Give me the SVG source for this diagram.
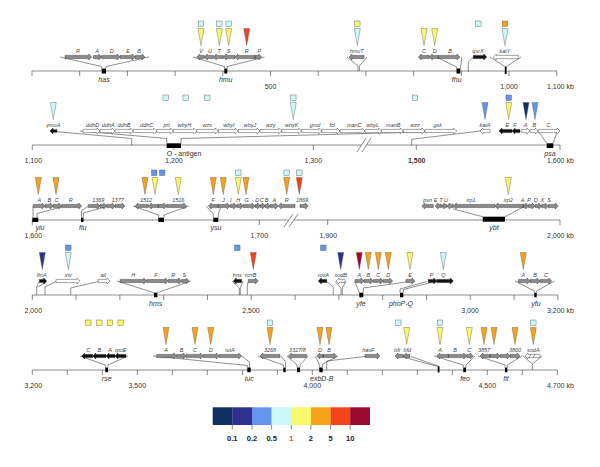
<svg xmlns="http://www.w3.org/2000/svg" xmlns:xlink="http://www.w3.org/1999/xlink" width="600" height="467" viewBox="0 0 600 467">
<style>
.ax{stroke:#707070;stroke-width:0.8;fill:none}
.tk{stroke:#555;stroke-width:0.7}
.g{fill:#8a8a8a;stroke:#333;stroke-width:0.45}
.w{fill:#fff;stroke:#333;stroke-width:0.45}
.k{fill:#111;stroke:#111;stroke-width:0.45}
.fan{fill:none;stroke:#333;stroke-width:0.55}
.m{fill:#000}
.gl{font-family:"Liberation Sans",Arial,sans-serif;font-style:italic;font-size:5.5px;fill:#444;text-anchor:middle}
.loc{font-family:"Liberation Sans",Arial,sans-serif;font-style:italic;font-size:7px;fill:#333;text-anchor:middle}
.sc{font-family:"Liberation Sans",Arial,sans-serif;font-size:7px;fill:#333;text-anchor:middle}
.kb{text-anchor:start}
.lg{font-family:"Liberation Sans",Arial,sans-serif;font-size:7.5px;font-weight:bold;fill:#222;text-anchor:middle}
.c1{fill:#12305f}.c2{fill:#2e3190}.c3{fill:#6495ed}.c4{fill:#cbf7f9}
.c5{fill:#f9f76a}.c6{fill:#f7a21b}.c7{fill:#f5431a}.c8{fill:#9b0a2e}
</style>
<defs>
<path id="t" d="M-3 -28.5h6L0 -11.5z" stroke="#555" stroke-width="0.4"/>
<rect id="s" x="-2.75" y="-36" width="5.5" height="5.5" stroke="#555" stroke-width="0.4"/>
</defs>

<!-- axes -->
<g id="axis1" transform="translate(0,57)">
<line class="ax" x1="32" y1="14" x2="557" y2="14"/>
<path class="tk" d="M32 14v5M79.7 14v5M127.4 14v5M175.1 14v5M222.8 14v5M270.5 14v5M318.2 14v5M365.9 14v5M413.6 14v5M461.3 14v5M509 14v5M556.7 14v5"/>
<text class="sc" x="270.5" y="31.5">500</text>
<text class="sc" x="509" y="31.5">1,000</text>
<text class="sc kb" x="547" y="31.5">1,100 kb</text>
</g>
<g id="axis2" transform="translate(0,131)">
<path class="ax" d="M32.3 14H361.5M366.5 14H560"/>
<path class="tk" d="M357 21L366 7M362 21L371 7"/>
<path class="tk" d="M32.3 14v5M174 14v5M313.3 14v5M416.3 14v5M560 14v5"/>
<text class="sc" x="33.3" y="31.5">1,100</text>
<text class="sc" x="174" y="31.5">1,200</text>
<text class="sc" x="313.3" y="31.5">1,300</text>
<text class="sc" x="416.7" y="31.5" font-weight="bold">1,500</text>
<text class="sc kb" x="547" y="31.5">1,600 kb</text>
</g>
<g id="axis3" transform="translate(0,206)">
<path class="ax" d="M32.3 14H288.8M293.8 14H560"/>
<path class="tk" d="M284 21L293 8M289 21L298 8"/>
<path class="tk" d="M32.3 14v5M259.3 14v5M327.7 14v5M560 14v5"/>
<text class="sc" x="33.3" y="31.5">1,600</text>
<text class="sc" x="259.3" y="31.5">1,700</text>
<text class="sc" x="328.3" y="31.5">1,900</text>
<text class="sc kb" x="547" y="31.5">2,000 kb</text>
</g>
<g id="axis4" transform="translate(0,281)">
<line class="ax" x1="32.3" y1="14" x2="557.9" y2="14"/>
<path class="tk" d="M32.3 14v5M76.1 14v5M119.9 14v5M163.7 14v5M207.5 14v5M251.3 14v5M295.1 14v5M338.9 14v5M382.7 14v5M426.5 14v5M470.3 14v5M514.1 14v5M557.9 14v5"/>
<text class="sc" x="33.3" y="31.5">2,000</text>
<text class="sc" x="251" y="31.5">2,500</text>
<text class="sc" x="470" y="31.5">3,000</text>
<text class="sc kb" x="547" y="31.5">3,200 kb</text>
</g>
<g id="axis5" transform="translate(0,356)">
<line class="ax" x1="32.3" y1="14" x2="557.3" y2="14"/>
<path class="tk" d="M32.3 14v5M67.3 14v5M102.3 14v5M137.3 14v5M172.3 14v5M207.3 14v5M242.3 14v5M277.3 14v5M312.3 14v5M347.3 14v5M382.3 14v5M417.3 14v5M452.3 14v5M487.3 14v5M522.3 14v5M557.3 14v5"/>
<text class="sc" x="33.3" y="31.5">3,200</text>
<text class="sc" x="137.3" y="31.5">3,500</text>
<text class="sc" x="312.3" y="31.5">4,000</text>
<text class="sc" x="487.3" y="31.5">4,500</text>
<text class="sc kb" x="547" y="31.5">4,700 kb</text>
</g>

<!-- connectors -->
<g id="connectors" class="fan">
<g transform="translate(0,57)">
<polyline points="60,0 101.7,9.5 101.7,11.5"/><polyline points="149,0 106,9.5 106,11.5"/>
<polyline points="193,0 224.3,9.5 224.3,11.5"/><polyline points="264.5,0 227.3,9.5 227.3,11.5"/>
<polyline points="347,0 358,9 358,14"/><polyline points="367,0 359.4,9 359.4,14"/>
<polyline points="438.3,1 456.7,10 456.7,11.5"/><polyline points="462,0 460.5,10 460.5,11.5"/>
<polyline points="473.3,0 468.3,5 468.3,15"/>
<polyline points="490,0 504.8,9.5"/><polyline points="521,0 506.6,9.5"/>
</g>
<g transform="translate(0,131)">
<polyline points="55,0.5 131.7,7.5 131.7,14.5"/>
<polyline points="80,0 166.7,7.5 166.7,12.3"/><polyline points="456.7,0 181,7.5 181,12.3"/>
<polyline points="480,0 411.7,8.3 411.7,15"/>
<polyline points="539,1 546.7,12.3"/><polyline points="557,1 553.3,12.3"/>
</g>
<g transform="translate(0,206)">
<polyline points="33,0 33,11.7"/><polyline points="61.7,1 37,7.5 37,11.7"/>
<polyline points="88.3,0 81.5,5 81.5,11.7"/><polyline points="105,1 83.3,7 83.3,11.7"/>
<polyline points="133,0 158.3,9 158.3,11.7"/><polyline points="189,0 164,9 164,11.7"/>
<polyline points="206,0 213.3,8 213.3,11.7"/><polyline points="221,0.5 218.3,8 218.3,11.7"/>
<polyline points="453.3,3 482.7,10.7"/><polyline points="505,10.7 523.3,1"/>
</g>
<g transform="translate(0,281)">
<polyline points="38.5,1 36.7,6 36.7,14"/><polyline points="46,1.5 37.5,6"/>
<polyline points="56,0.5 45,6 45,14"/>
<polyline points="98.3,0.5 70.7,7 70.7,14"/>
<polyline points="117,0 154,11.7"/><polyline points="191,0 157.3,11.7"/>
<polyline points="232,0 239.3,7 239.3,14"/><polyline points="243,0.5 240.3,7 240.3,14"/>
<polyline points="248.3,0.5 247.3,4 247.3,14"/>
<polyline points="326.7,0.5 333.3,6 333.3,14"/>
<polyline points="335,0.5 341,7 341,14"/><polyline points="346,0.5 342.3,7 342.3,14"/>
<polyline points="355,1 359.3,11.7"/><polyline points="406,1 363.3,7 363.3,11.7"/>
<polyline points="427,0.5 400,8 400,11.7"/><polyline points="431,1.5 403.3,8.5 403.3,11.7"/>
<polyline points="515,0 534.3,10 534.3,11.7"/><polyline points="554.5,0 536.7,10 536.7,11.7"/>
</g>
<g transform="translate(0,356)">
<polyline points="80,0 105.3,9 105.3,11.5"/><polyline points="128,0 108,9 108,11.5"/>
<polyline points="153.3,0 247.3,9.5 247.3,11.5"/><polyline points="241.7,0 249.5,6 249.5,11.5"/>
<polyline points="258,0 283.3,9 283.3,11.5"/><polyline points="281,0 285.7,6 285.7,11.5"/>
<polyline points="287,0 297,9 297,11.5"/><polyline points="308,0 300,9 300,11.5"/>
<polyline points="315,0 319.3,8 319.3,11.5"/><polyline points="338,0 322.7,8 322.7,11.5"/>
<polyline points="365,0.5 326.7,5 326.7,14"/>
<polyline points="403,1 437.7,10.5"/><polyline points="411,0.5 439.5,10.5"/>
<polyline points="434,0 463.3,9 463.3,11.5"/><polyline points="475,0 466,9 466,11.5"/>
<polyline points="478,0 505,9 505,11.5"/><polyline points="522,0 507.3,9 507.3,11.5"/>
<polyline points="523,0 532.3,8 532.3,14"/><polyline points="542,0 532.3,8"/>
</g>
</g>

<!-- ROW 1 -->
<g id="has" transform="translate(0,57)">
<path class="g" d="M65 -1.6H88.7V-3L91.7 0L88.7 3V1.6H65ZM93.3 -1.6H98.7V-3L101.7 0L98.7 3V1.6H93.3ZM101.7 -1.6H117V-3L120 0L117 3V1.6H101.7ZM120 -1.6H132V-3L135 0L132 3V1.6H120ZM135 -1.6H142V-3L145 0L142 3V1.6H135Z"/>
<text class="gl" x="78" y="-4.5">R</text><text class="gl" x="97" y="-4.5">A</text><text class="gl" x="111.7" y="-4.5">D</text><text class="gl" x="128" y="-4.5">E</text><text class="gl" x="139" y="-4.5">B</text>
<rect class="m" x="101.7" y="11.5" width="4.3" height="5"/>
<text class="loc" x="104" y="25">has</text>
</g>
<g id="hmu" transform="translate(0,57)">
<path class="g" d="M204.3 -1.6H199.7V-3L196.7 0L199.7 3V1.6H204.3ZM213.3 -1.6H207.3V-3L204.3 0L207.3 3V1.6H213.3ZM223.3 -1.6H216.3V-3L213.3 0L216.3 3V1.6H223.3ZM235 -1.6H226.3V-3L223.3 0L226.3 3V1.6H235ZM255 -1.6H238V-3L235 0L238 3V1.6H255ZM255 -1.6H258.7V-3L261.7 0L258.7 3V1.6H255Z"/>
<text class="gl" x="201" y="-4.5">V</text><text class="gl" x="210" y="-4.5">U</text><text class="gl" x="219.3" y="-4.5">T</text><text class="gl" x="228.7" y="-4.5">S</text><text class="gl" x="246.7" y="-4.5">R</text><text class="gl" x="259.3" y="-4.5">P</text>
<use href="#t" x="201" class="c5"/><use href="#t" x="219.3" class="c5"/><use href="#t" x="228.7" class="c5"/><use href="#t" x="246.7" class="c7"/>
<use href="#s" x="201" class="c4"/><use href="#s" x="219.3" class="c4"/><use href="#s" x="228.7" class="c4"/>
<rect class="m" x="224.3" y="11.5" width="3" height="5"/>
<text class="loc" x="225.7" y="25">hmu</text>
</g>
<g id="hmuT" transform="translate(0,57)">
<path class="g" d="M364 -1.6H352V-3L349 0L352 3V1.6H364Z"/>
<text class="gl" x="356.7" y="-4.5">hmuT</text>
<use href="#t" x="357.3" class="c4"/><use href="#s" x="357.3" class="c5"/>
</g>
<g id="fhu" transform="translate(0,57)">
<path class="g" d="M429.3 -1.6H421.3V-3L418.3 0L421.3 3V1.6H429.3ZM438.3 -1.6H432.3V-3L429.3 0L432.3 3V1.6H438.3ZM438.3 -1.6H457V-3L460 0L457 3V1.6H438.3Z"/>
<text class="gl" x="424" y="-4.5">C</text><text class="gl" x="434.7" y="-4.5">D</text><text class="gl" x="450" y="-4.5">B</text>
<use href="#t" x="424" class="c5"/><use href="#t" x="434.7" class="c5"/>
<rect class="m" x="456.5" y="11.5" width="3.8" height="5"/>
<text class="loc" x="456.7" y="25">fhu</text>
</g>
<g id="qsrX" transform="translate(0,57)">
<path class="k" d="M473.3 -1.6H483.7V-3L486.7 0L483.7 3V1.6H473.3Z"/>
<text class="gl" x="478" y="-4.5">qsrX</text>
<use href="#s" x="478.3" class="c4"/>
</g>
<g id="katY" transform="translate(0,57)">
<path class="w" d="M518.3 -1.6H496.3V-3L493.3 0L496.3 3V1.6H518.3Z"/>
<text class="gl" x="505" y="-4.5">katY</text>
<use href="#t" x="505" class="c4"/><use href="#s" x="505" class="c6"/>
<rect class="m" x="504.8" y="9.5" width="1.8" height="7.5"/>
</g>

<!-- ROW 2 -->
<g id="ymoA" transform="translate(0,131)">
<path class="k" d="M57 -1.3H53V-3L50 0L53 3V1.3H57Z"/>
<text class="gl" x="53.3" y="-4.5">ymoA</text>
<use href="#t" x="53.3" class="c4"/>
</g>
<g id="O-antigen" transform="translate(0,131)">
<path class="w" d="M83 -1.6H97V-3L100 0L97 3V1.6H83ZM100 -1.6H112V-3L115 0L112 3V1.6H100ZM115 -1.6H130.3V-3L133.3 0L130.3 3V1.6H115ZM133.3 -1.6H153.7V-3L156.7 0L153.7 3V1.6H133.3ZM156.7 -1.6H170.3V-3L173.3 0L170.3 3V1.6H156.7ZM173.3 -1.6H193.7V-3L196.7 0L193.7 3V1.6H173.3ZM196.7 -1.6H215.3V-3L218.3 0L215.3 3V1.6H196.7ZM218.3 -1.6H235.3V-3L238.3 0L235.3 3V1.6H218.3ZM238.3 -1.6H257V-3L260 0L257 3V1.6H238.3ZM260 -1.6H278.7V-3L281.7 0L278.7 3V1.6H260ZM281.7 -1.6H298.7V-3L301.7 0L298.7 3V1.6H281.7ZM301.7 -1.6H318.7V-3L321.7 0L318.7 3V1.6H301.7ZM321.7 -1.6H337V-3L340 0L337 3V1.6H321.7ZM340 -1.6H362V-3L365 0L362 3V1.6H340ZM365 -1.6H378.7V-3L381.7 0L378.7 3V1.6H365ZM381.7 -1.6H400.3V-3L403.3 0L400.3 3V1.6H381.7ZM403.3 -1.6H422V-3L425 0L422 3V1.6H403.3ZM425 -1.6H453.7V-3L456.7 0L453.7 3V1.6H425Z"/>
<text class="gl" x="92.7" y="-4.5">ddhD</text><text class="gl" x="108.3" y="-4.5">ddhA</text><text class="gl" x="124" y="-4.5">ddhB</text><text class="gl" x="146.7" y="-4.5">ddhC</text><text class="gl" x="166.7" y="-4.5">prt</text><text class="gl" x="184.3" y="-4.5">wbyH</text><text class="gl" x="207.3" y="-4.5">wzx</text><text class="gl" x="229" y="-4.5">wbyI</text><text class="gl" x="250" y="-4.5">wbyJ</text><text class="gl" x="270.7" y="-4.5">wzy</text><text class="gl" x="291.7" y="-4.5">wbyK</text><text class="gl" x="315" y="-4.5">gmd</text><text class="gl" x="332.3" y="-4.5">fcl</text><text class="gl" x="354.3" y="-4.5">manC</text><text class="gl" x="372.7" y="-4.5">wbyL</text><text class="gl" x="393.3" y="-4.5">manB</text><text class="gl" x="415" y="-4.5">wzz</text><text class="gl" x="437.7" y="-4.5">gsk</text>
<use href="#t" x="293.3" class="c4"/>
<use href="#s" x="165.7" class="c4"/><use href="#s" x="185.7" class="c4"/><use href="#s" x="207.3" class="c4"/><use href="#s" x="293.3" class="c4"/><use href="#s" x="415" class="c4"/>
<rect class="m" x="166.7" y="12.3" width="14.3" height="4.7"/>
<text class="sc kb" x="166.7" y="25">O - antigen</text>
</g>
<g id="katA" transform="translate(0,131)">
<path class="w" d="M490 -1.6H483V-3L480 0L483 3V1.6H490Z"/>
<text class="gl" x="485" y="-4.5">katA</text>
<use href="#t" x="485" class="c3"/>
</g>
<g id="psa" transform="translate(0,131)">
<path class="k" d="M512 -1.6H502V-3L499 0L502 3V1.6H512ZM520 -1.6H515V-3L512 0L515 3V1.6H520Z"/>
<path class="w" d="M521.7 -1.6H527V-3L530 0L527 3V1.6H521.7ZM530 -1.6H535.3V-3L538.3 0L535.3 3V1.6H530ZM538.3 -1.6H557V-3L560 0L557 3V1.6H538.3Z"/>
<text class="gl" x="507.3" y="-4.5">E</text><text class="gl" x="515" y="-4.5">F</text><text class="gl" x="525.7" y="-4.5">A</text><text class="gl" x="534.3" y="-4.5">B</text><text class="gl" x="548.3" y="-4.5">C</text>
<use href="#t" x="508.7" class="c5"/><use href="#t" x="526" class="c1"/><use href="#t" x="535" class="c3"/>
<use href="#s" x="508.7" class="c3"/>
<rect class="m" x="546.7" y="12.3" width="6.6" height="4.7"/>
<text class="loc" x="550" y="25">psa</text>
</g>

<!-- ROW 3 -->
<g id="yiu" transform="translate(0,206)">
<path class="g" d="M33.3 -1.6H42V-3L45 0L42 3V1.6H33.3ZM45 -1.6H50.3V-3L53.3 0L50.3 3V1.6H45ZM53.3 -1.6H58.7V-3L61.7 0L58.7 3V1.6H53.3ZM61.7 -1.6H78.7V-3L81.7 0L78.7 3V1.6H61.7Z"/>
<text class="gl" x="39.3" y="-4.5">A</text><text class="gl" x="49.3" y="-4.5">B</text><text class="gl" x="56.7" y="-4.5">C</text><text class="gl" x="70.7" y="-4.5">R</text>
<use href="#t" x="38.3" class="c6"/><use href="#t" x="56" class="c6"/>
<rect class="m" x="32.3" y="11.7" width="6" height="4.3"/>
<text class="loc" x="40" y="24">yiu</text>
</g>
<g id="fiu" transform="translate(0,206)">
<path class="g" d="M88.3 -1.6H97V-3L100 0L97 3V1.6H88.3ZM100 -1.6H103.7V-3L106.7 0L103.7 3V1.6H100ZM106.7 -1.6H112V-3L115 0L112 3V1.6H106.7ZM115 -1.6H122V-3L125 0L122 3V1.6H115Z"/>
<text class="gl" x="98.3" y="-4.5">1369</text><text class="gl" x="117.7" y="-4.5">1377</text>
<rect class="m" x="81" y="11.7" width="2.5" height="4.3"/>
<text class="loc" x="82.7" y="24">fiu</text>
</g>
<g id="y1512" transform="translate(0,206)">
<path class="g" d="M148.3 -1.6H138V-3L135 0L138 3V1.6H148.3ZM158.3 -1.6H151.3V-3L148.3 0L151.3 3V1.6H158.3ZM158.3 -1.6H163.7V-3L166.7 0L163.7 3V1.6H158.3ZM166.7 -1.6H183.7V-3L186.7 0L183.7 3V1.6H166.7Z"/>
<text class="gl" x="146" y="-4.5">1512</text><text class="gl" x="178.3" y="-4.5">1516</text>
<use href="#t" x="145" class="c6"/><use href="#t" x="155" class="c5"/><use href="#t" x="178.3" class="c5"/>
<use href="#s" x="154.2" class="c3"/><use href="#s" x="162.2" class="c3"/>
<rect class="m" x="158.3" y="11.7" width="5.7" height="4.3"/>
</g>
<g id="ysu" transform="translate(0,206)">
<path class="g" d="M218.3 -1.6H211.3V-3L208.3 0L211.3 3V1.6H218.3ZM218.3 -1.6H227V-3L230 0L227 3V1.6H218.3ZM230 -1.6H233.7V-3L236.7 0L233.7 3V1.6H230ZM236.7 -1.6H240.3V-3L243.3 0L240.3 3V1.6H236.7ZM243.3 -1.6H252V-3L255 0L252 3V1.6H243.3ZM255 -1.6H257.5V-3L260 0L257.5 3V1.6H255ZM260 -1.6H262.5V-3L265 0L262.5 3V1.6H260ZM265 -1.6H267.5V-3L270 0L267.5 3V1.6H265ZM270 -1.6H275.3V-3L278.3 0L275.3 3V1.6H270ZM295 -1.6H281.3V-3L278.3 0L281.3 3V1.6H295ZM300 -1.6H305.3V-3L308.3 0L305.3 3V1.6H300Z"/>
<text class="gl" x="213.3" y="-4.5">F</text><text class="gl" x="223.3" y="-4.5">J</text><text class="gl" x="230.7" y="-4.5">I</text><text class="gl" x="238.3" y="-4.5">H</text><text class="gl" x="246.7" y="-4.5">G</text><text class="gl" x="257.3" y="-4.5">D</text><text class="gl" x="261.7" y="-4.5">C</text><text class="gl" x="266.7" y="-4.5">B</text><text class="gl" x="274.3" y="-4.5">A</text><text class="gl" x="286.7" y="-4.5">R</text><text class="gl" x="302" y="-4.5">1869</text>
<use href="#t" x="213.3" class="c6"/><use href="#t" x="223.3" class="c6"/><use href="#t" x="238.3" class="c5"/><use href="#t" x="246" class="c6"/><use href="#t" x="286.7" class="c6"/><use href="#t" x="299.3" class="c7"/>
<use href="#s" x="238.3" class="c4"/><use href="#s" x="286.7" class="c4"/><use href="#s" x="299.3" class="c4"/>
<rect class="m" x="213.3" y="11.7" width="5" height="4.3"/>
<text class="loc" x="216" y="24">ysu</text>
</g>
<g id="ybt" transform="translate(0,206)">
<path class="g" d="M433.3 -1.6H424.7V-3L421.7 0L424.7 3V1.6H433.3ZM441.7 -1.6H438V-3L435 0L438 3V1.6H441.7ZM446.7 -1.6H444.2V-3L441.7 0L444.2 3V1.6H446.7ZM453.3 -1.6H449.7V-3L446.7 0L449.7 3V1.6H453.3ZM495 -1.6H456.3V-3L453.3 0L456.3 3V1.6H495ZM523.3 -1.6H498V-3L495 0L498 3V1.6H523.3ZM523.3 -1.6H525.8V-3L528.3 0L525.8 3V1.6H523.3ZM528.3 -1.6H532V-3L535 0L532 3V1.6H528.3ZM535 -1.6H538.7V-3L541.7 0L538.7 3V1.6H535ZM541.7 -1.6H545.3V-3L548.3 0L545.3 3V1.6H541.7ZM548.3 -1.6H555.3V-3L558.3 0L555.3 3V1.6H548.3Z"/>
<text class="gl" x="427.7" y="-4.5">psn</text><text class="gl" x="435.7" y="-4.5">E</text><text class="gl" x="441" y="-4.5">T</text><text class="gl" x="446" y="-4.5">U</text><text class="gl" x="471" y="-4.5">irp1</text><text class="gl" x="508.3" y="-4.5">irp2</text><text class="gl" x="522.7" y="-4.5">A</text><text class="gl" x="529" y="-4.5">P</text><text class="gl" x="535.7" y="-4.5">Q</text><text class="gl" x="542.3" y="-4.5">X</text><text class="gl" x="549" y="-4.5">S</text>
<use href="#t" x="508.3" class="c5"/>
<rect class="m" x="482.7" y="10.7" width="22.3" height="5"/>
<text class="loc" x="494" y="24">ybt</text>
</g>

<!-- ROW 4 -->
<g id="ftnA" transform="translate(0,281)">
<path class="k" d="M39.3 -1.6H43.7V-3L46.7 0L43.7 3V1.6H39.3Z"/>
<text class="gl" x="41.7" y="-4.5">ftnA</text>
<use href="#t" x="42.3" class="c2"/>
</g>
<g id="inv" transform="translate(0,281)">
<path class="w" d="M56 -1.6H77V-3L80 0L77 3V1.6H56Z"/>
<text class="gl" x="68.3" y="-4.5">inv</text>
<use href="#t" x="68.3" class="c4"/><use href="#s" x="68.3" class="c3"/>
</g>
<g id="ail" transform="translate(0,281)">
<path class="w" d="M98.3 -1.6H107V-3L110 0L107 3V1.6H98.3Z"/>
<text class="gl" x="103.3" y="-4.5">ail</text>
</g>
<g id="hms" transform="translate(0,281)">
<path class="g" d="M120 -1.6H143.7V-3L146.7 0L143.7 3V1.6H120ZM146.7 -1.6H165.3V-3L168.3 0L165.3 3V1.6H146.7ZM168.3 -1.6H178.7V-3L181.7 0L178.7 3V1.6H168.3ZM181.7 -1.6H186.3V-3L189.3 0L186.3 3V1.6H181.7Z"/>
<text class="gl" x="133.3" y="-4.5">H</text><text class="gl" x="156" y="-4.5">F</text><text class="gl" x="173.3" y="-4.5">R</text><text class="gl" x="184.3" y="-4.5">S</text>
<rect class="m" x="154" y="11.7" width="3.3" height="4.6"/>
<text class="loc" x="155.7" y="25" font-size="7.5">hms</text>
</g>
<g id="hns" transform="translate(0,281)">
<path class="k" d="M241.7 -1.6H236.3V-3L233.3 0L236.3 3V1.6H241.7Z"/>
<text class="gl" x="237.3" y="-4.5">hns</text>
<use href="#s" x="237.3" class="c3"/>
</g>
<g id="tonB" transform="translate(0,281)">
<path class="g" d="M248.3 -1.6H255.3V-3L258.3 0L255.3 3V1.6H248.3Z"/>
<text class="gl" x="250.7" y="-4.5">tonB</text>
<use href="#t" x="253.3" class="c7"/>
</g>
<g id="rovA" transform="translate(0,281)">
<path class="k" d="M326.7 -1.6H321.3V-3L318.3 0L321.3 3V1.6H326.7Z"/>
<text class="gl" x="323.3" y="-4.5">rovA</text>
<use href="#s" x="323.3" class="c3"/>
</g>
<g id="sodB" transform="translate(0,281)">
<path class="w" d="M345 -1.6H339V-3L336 0L339 3V1.6H345Z"/>
<text class="gl" x="340.7" y="-4.5">sodB</text>
<use href="#t" x="340.7" class="c2"/>
</g>
<g id="yfe" transform="translate(0,281)">
<path class="g" d="M355 -1.6H361V-3L364 0L361 3V1.6H355ZM364 -1.6H370.3V-3L373.3 0L370.3 3V1.6H364ZM373.3 -1.6H380.3V-3L383.3 0L380.3 3V1.6H373.3ZM383.3 -1.6H389.7V-3L392.7 0L389.7 3V1.6H383.3ZM406 -1.6H412V-3L415 0L412 3V1.6H406Z"/>
<text class="gl" x="359.3" y="-4.5">A</text><text class="gl" x="368.3" y="-4.5">B</text><text class="gl" x="378.3" y="-4.5">C</text><text class="gl" x="388.3" y="-4.5">D</text><text class="gl" x="410" y="-4.5">E</text>
<use href="#t" x="359.3" class="c8"/><use href="#t" x="368.3" class="c6"/><use href="#t" x="378.3" class="c6"/><use href="#t" x="388.3" class="c6"/><use href="#t" x="410" class="c5"/>
<rect class="m" x="359.3" y="11.7" width="4" height="4.6"/>
<text class="loc" x="361" y="25">yfe</text>
</g>
<g id="phoP-Q" transform="translate(0,281)">
<path class="k" d="M428.3 -1.6H433.7V-3L436.7 0L433.7 3V1.6H428.3ZM436.7 -1.6H450.3V-3L453.3 0L450.3 3V1.6H436.7Z"/>
<text class="gl" x="431.7" y="-4.5">P</text><text class="gl" x="443.3" y="-4.5">Q</text>
<use href="#t" x="443.3" class="c4"/>
<rect class="m" x="400" y="11.7" width="3.3" height="4.6"/>
<text class="loc" x="401" y="25">phoP-Q</text>
</g>
<g id="yfu" transform="translate(0,281)">
<path class="g" d="M518.3 -1.6H527V-3L530 0L527 3V1.6H518.3ZM530 -1.6H537V-3L540 0L537 3V1.6H530ZM540 -1.6H548.7V-3L551.7 0L548.7 3V1.6H540Z"/>
<text class="gl" x="523.3" y="-4.5">A</text><text class="gl" x="535" y="-4.5">B</text><text class="gl" x="546" y="-4.5">C</text>
<use href="#t" x="523.3" class="c6"/>
<rect class="m" x="534.3" y="11.7" width="2.4" height="4.6"/>
<text class="loc" x="536" y="25">yfu</text>
</g>

<!-- ROW 5 -->
<g id="rse" transform="translate(0,356)">
<path class="k" d="M92.7 -1.6H84.7V-3L81.7 0L84.7 3V1.6H92.7ZM106 -1.6H95.7V-3L92.7 0L95.7 3V1.6H106ZM115 -1.6H109V-3L106 0L109 3V1.6H115ZM126 -1.6H118V-3L115 0L118 3V1.6H126Z"/>
<text class="gl" x="88.3" y="-4.5">C</text><text class="gl" x="99.3" y="-4.5">B</text><text class="gl" x="110" y="-4.5">A</text><text class="gl" x="120.7" y="-4.5">rpoE</text>
<use href="#s" x="88.3" class="c5"/><use href="#s" x="99.3" class="c5"/><use href="#s" x="110" class="c5"/><use href="#s" x="120.7" class="c5"/>
<rect class="m" x="105.3" y="11.5" width="2.7" height="4.7"/>
<text class="loc" x="106.7" y="24.5">rse</text>
</g>
<g id="iuc" transform="translate(0,356)">
<path class="g" d="M156.7 -1.6H173.7V-3L176.7 0L173.7 3V1.6H156.7ZM176.7 -1.6H183V-3L186 0L183 3V1.6H176.7ZM186 -1.6H200.3V-3L203.3 0L200.3 3V1.6H186ZM203.3 -1.6H216.3V-3L219.3 0L216.3 3V1.6H203.3ZM219.3 -1.6H238.7V-3L241.7 0L238.7 3V1.6H219.3Z"/>
<text class="gl" x="166" y="-4.5">A</text><text class="gl" x="181.7" y="-4.5">B</text><text class="gl" x="195" y="-4.5">C</text><text class="gl" x="210.7" y="-4.5">D</text><text class="gl" x="230" y="-4.5">iutA</text>
<use href="#t" x="166" class="c6"/><use href="#t" x="195" class="c6"/><use href="#t" x="210.7" class="c6"/>
<rect class="m" x="247.3" y="11.5" width="3.4" height="4.7"/>
<text class="loc" x="249.3" y="24.5">iuc</text>
</g>
<g id="y3268" transform="translate(0,356)">
<path class="g" d="M280 -1.6H263V-3L260 0L263 3V1.6H280Z"/>
<text class="gl" x="270" y="-4.5">3268</text>
<use href="#t" x="270" class="c6"/><use href="#s" x="270" class="c4"/>
<rect class="m" x="283.3" y="11.5" width="2.4" height="4.7"/>
</g>
<g id="y3327" transform="translate(0,356)">
<path class="g" d="M306.7 -1.6H291.3V-3L288.3 0L291.3 3V1.6H306.7Z"/>
<text class="gl" x="297.5" y="-4.5">3327/8</text>
<rect class="m" x="297" y="11.5" width="3" height="4.7"/>
</g>
<g id="exbD-B" transform="translate(0,356)">
<path class="g" d="M323.3 -1.6H319.7V-3L316.7 0L319.7 3V1.6H323.3ZM323.3 -1.6H333.7V-3L336.7 0L333.7 3V1.6H323.3Z"/>
<text class="gl" x="320" y="-4.5">D</text><text class="gl" x="329" y="-4.5">B</text>
<use href="#t" x="320" class="c6"/><use href="#t" x="329" class="c6"/>
<rect class="m" x="319.3" y="11.5" width="3.4" height="4.7"/>
<text class="loc" x="321.7" y="24.5">exbD-B</text>
</g>
<g id="hasF" transform="translate(0,356)">
<path class="g" d="M365 -1.6H377V-3L380 0L377 3V1.6H365Z"/>
<text class="gl" x="368.3" y="-4.5">hasF</text>
</g>
<g id="bfr" transform="translate(0,356)">
<path class="g" d="M403.3 -1.6H398V-3L395 0L398 3V1.6H403.3ZM410 -1.6H406.3V-3L403.3 0L406.3 3V1.6H410Z"/>
<text class="gl" x="397.3" y="-4.5">bfr</text><text class="gl" x="407.3" y="-4.5">bfd</text>
<use href="#t" x="406.7" class="c5"/><use href="#s" x="398.3" class="c4"/>
<rect class="m" x="437.7" y="10.5" width="1.8" height="6"/>
</g>
<g id="feo" transform="translate(0,356)">
<path class="g" d="M448.3 -1.6H439.7V-3L436.7 0L439.7 3V1.6H448.3ZM448.3 -1.6H463.7V-3L466.7 0L463.7 3V1.6H448.3ZM466.7 -1.6H470.3V-3L473.3 0L470.3 3V1.6H466.7Z"/>
<text class="gl" x="440" y="-4.5">A</text><text class="gl" x="455" y="-4.5">B</text><text class="gl" x="469.3" y="-4.5">C</text>
<use href="#t" x="440" class="c5"/><use href="#t" x="469.3" class="c5"/><use href="#s" x="440" class="c4"/>
<rect class="m" x="463.3" y="11.5" width="2.7" height="4.7"/>
<text class="loc" x="465" y="24.5">feo</text>
</g>
<g id="fit" transform="translate(0,356)">
<path class="g" d="M490 -1.6H483V-3L480 0L483 3V1.6H490ZM490 -1.6H497V-3L500 0L497 3V1.6H490ZM500 -1.6H507V-3L510 0L507 3V1.6H500ZM510 -1.6H517V-3L520 0L517 3V1.6H510Z"/>
<text class="gl" x="484" y="-4.5">3857</text><text class="gl" x="515" y="-4.5">3860</text>
<use href="#t" x="484" class="c6"/><use href="#t" x="494" class="c6"/><use href="#t" x="515" class="c6"/>
<rect class="m" x="505" y="11.5" width="2.3" height="4.7"/>
<text class="loc" x="506" y="24.5">fit</text>
</g>
<g id="sodA" transform="translate(0,356)">
<path class="w" d="M540 -1.6H528V-3L525 0L528 3V1.6H540Z"/>
<path class="tk" d="M529 2L531 -2M533 2L535 -2" stroke-width="0.45"/>
<text class="gl" x="533.3" y="-4.5">sodA</text>
<use href="#t" x="533.3" class="c6"/><use href="#s" x="533.3" class="c4"/>
</g>

<!-- legend -->
<g id="legend">
<rect class="c1" x="212.7" y="407.3" width="19.8" height="17.7"/>
<rect class="c2" x="232.3" y="407.3" width="19.8" height="17.7"/>
<rect class="c3" x="252" y="407.3" width="19.8" height="17.7"/>
<rect class="c4" x="271.6" y="407.3" width="19.8" height="17.7"/>
<rect class="c5" x="291.3" y="407.3" width="19.8" height="17.7"/>
<rect class="c6" x="310.9" y="407.3" width="19.8" height="17.7"/>
<rect class="c7" x="330.6" y="407.3" width="19.8" height="17.7"/>
<rect class="c8" x="350.2" y="407.3" width="19.8" height="17.7"/>
<path class="tk" d="M232.3 425v4.5M252 425v4.5M271.6 425v4.5M291.3 425v4.5M310.9 425v4.5M330.6 425v4.5M350.2 425v4.5"/>
<text class="lg" x="232.3" y="441">0.1</text>
<text class="lg" x="252" y="441">0.2</text>
<text class="lg" x="271.6" y="441">0.5</text>
<text class="lg" x="291.3" y="441" fill="#e0442a" style="fill:#e0442a">1</text>
<text class="lg" x="310.9" y="441">2</text>
<text class="lg" x="330.6" y="441">5</text>
<text class="lg" x="350.2" y="441">10</text>
</g>
</svg>
